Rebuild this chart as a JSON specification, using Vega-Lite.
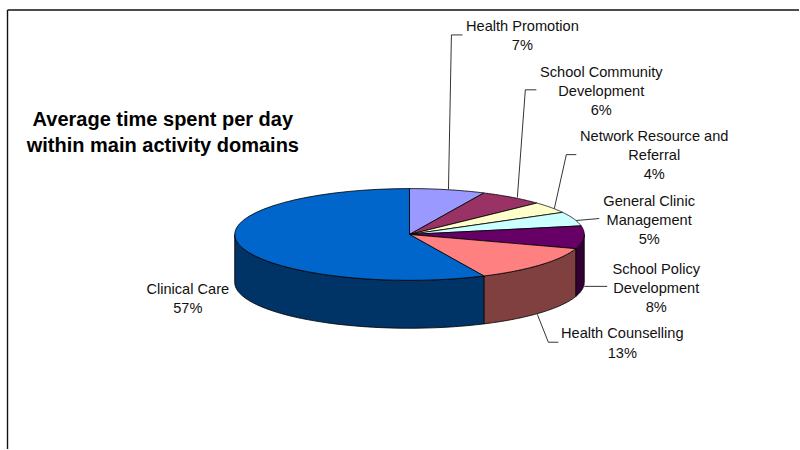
{
  "$schema": "https://vega.github.io/schema/vega-lite/v6.json",
  "autosize": {"type": "fit", "contains": "padding"},
  "width": 800,
  "height": 450,
  "padding": 0,
  "background": "white",
  "config": {"view": {"stroke": null}},
  "datasets": {
    "slices": [
      {"rank": 1, "slice": "Health Promotion", "share": 7, "label": "Health Promotion\n7%", "lx": 65.38, "ly": 6},
      {"rank": 2, "slice": "School Community Development", "share": 6, "label": "School Community\nDevelopment\n6%", "lx": 75.25, "ly": 16.22},
      {"rank": 3, "slice": "Network Resource and Referral", "share": 4, "label": "Network Resource and\nReferral\n4%", "lx": 81.88, "ly": 30.44},
      {"rank": 4, "slice": "General Clinic Management", "share": 5, "label": "General Clinic\nManagement\n5%", "lx": 81.25, "ly": 44.89},
      {"rank": 5, "slice": "School Policy Development", "share": 8, "label": "School Policy\nDevelopment\n8%", "lx": 82.13, "ly": 60.1},
      {"rank": 6, "slice": "Health Counselling", "share": 13, "label": "Health Counselling\n13%", "lx": 77.88, "ly": 74.44},
      {"rank": 7, "slice": "Clinical Care", "share": 57, "label": "Clinical Care\n57%", "lx": 23.5, "ly": 64.5}
    ],
    "leaders": [
      {"slice": "Health Promotion", "step": 1, "x": 56.13, "y": 42.11},
      {"slice": "Health Promotion", "step": 2, "x": 56.5, "y": 7.78},
      {"slice": "Health Promotion", "step": 3, "x": 57.88, "y": 7.78},
      {"slice": "School Community Development", "step": 1, "x": 64.75, "y": 44},
      {"slice": "School Community Development", "step": 2, "x": 65.75, "y": 20},
      {"slice": "School Community Development", "step": 3, "x": 67.13, "y": 20},
      {"slice": "Network Resource and Referral", "step": 1, "x": 69.38, "y": 46.44},
      {"slice": "Network Resource and Referral", "step": 2, "x": 70.88, "y": 34.44},
      {"slice": "Network Resource and Referral", "step": 3, "x": 72.13, "y": 34.44},
      {"slice": "General Clinic Management", "step": 1, "x": 72.13, "y": 49.11},
      {"slice": "General Clinic Management", "step": 2, "x": 75, "y": 48.67},
      {"slice": "School Policy Development", "step": 1, "x": 73.13, "y": 63.78},
      {"slice": "School Policy Development", "step": 2, "x": 76, "y": 63.78},
      {"slice": "Health Counselling", "step": 1, "x": 67.25, "y": 70},
      {"slice": "Health Counselling", "step": 2, "x": 68.63, "y": 76.22},
      {"slice": "Health Counselling", "step": 3, "x": 69.88, "y": 76.22}
    ]
  },
  "layer": [
    {
      "data": {"values": [
        {"x": 0.94, "x2": 0.94, "y": 2.22, "y2": 100},
        {"x": 0.94, "x2": 100, "y": 2.22, "y2": 2.22}
      ]},
      "mark": {"type": "rule", "color": "#111111", "strokeWidth": 1.4},
      "encoding": {
        "x": {"field": "x", "type": "quantitative", "axis": null, "scale": {"domain": [0, 100], "nice": false, "zero": false}},
        "x2": {"field": "x2"},
        "y": {"field": "y", "type": "quantitative", "axis": null, "scale": {"domain": [0, 100], "nice": false, "zero": false, "reverse": true}},
        "y2": {"field": "y2"}
      }
    },
    {
      "data": {"name": "slices"},
      "transform": [
        {"stack": "share", "sort": [{"field": "rank"}], "as": ["s0", "s1"]},
        {"filter": "datum.s1 > 25 && datum.s0 < 75"},
        {"calculate": "max(datum.s0, 25)", "as": "a0"},
        {"calculate": "min(datum.s1, 75)", "as": "a1"},
        {"calculate": "[0,0.025,0.05,0.075,0.1,0.125,0.15,0.175,0.2,0.225,0.25,0.275,0.3,0.325,0.35,0.375,0.4,0.425,0.45,0.475,0.5,0.525,0.55,0.575,0.6,0.625,0.65,0.675,0.7,0.725,0.75,0.775,0.8,0.825,0.85,0.875,0.9,0.925,0.95,0.975,1]", "as": "t"},
        {"flatten": ["t"]},
        {"calculate": "2 * PI * (datum.a0 + datum.t * (datum.a1 - datum.a0)) / 100", "as": "angle"},
        {"calculate": "51.25 + 21.875 * sin(datum.angle)", "as": "px"},
        {"calculate": "52.22 - 10.22 * cos(datum.angle)", "as": "py"},
        {"calculate": "datum.py + 10.67", "as": "pyb"}
      ],
      "mark": {"type": "area", "stroke": "black", "strokeWidth": 0.8, "opacity": 1},
      "encoding": {
        "x": {"field": "px", "type": "quantitative", "axis": null, "scale": {"domain": [0, 100], "nice": false, "zero": false}},
        "y": {"field": "py", "type": "quantitative", "axis": null, "scale": {"domain": [0, 100], "nice": false, "zero": false, "reverse": true}},
        "y2": {"field": "pyb"},
        "color": {
          "field": "slice",
          "type": "nominal",
          "legend": null,
          "scale": {
            "domain": ["School Policy Development", "Health Counselling", "Clinical Care"],
            "range": ["#330033", "#804040", "#003366"]
          }
        }
      }
    },
    {
      "data": {"name": "slices"},
      "transform": [
        {"stack": "share", "sort": [{"field": "rank"}], "as": ["s0", "s1"]},
        {"calculate": "[-1,0,0.025,0.05,0.075,0.1,0.125,0.15,0.175,0.2,0.225,0.25,0.275,0.3,0.325,0.35,0.375,0.4,0.425,0.45,0.475,0.5,0.525,0.55,0.575,0.6,0.625,0.65,0.675,0.7,0.725,0.75,0.775,0.8,0.825,0.85,0.875,0.9,0.925,0.95,0.975,1]", "as": "t"},
        {"flatten": ["t"]},
        {"calculate": "2 * PI * (datum.s0 + max(datum.t, 0) * (datum.s1 - datum.s0)) / 100", "as": "angle"},
        {"calculate": "datum.t < 0 ? 0 : 1", "as": "r"},
        {"calculate": "51.25 + 21.875 * datum.r * sin(datum.angle)", "as": "px"},
        {"calculate": "52.22 - 10.22 * datum.r * cos(datum.angle)", "as": "py"}
      ],
      "mark": {"type": "line", "interpolate": "linear-closed", "stroke": "black", "strokeWidth": 0.8},
      "encoding": {
        "x": {"field": "px", "type": "quantitative", "axis": null, "scale": {"domain": [0, 100], "nice": false, "zero": false}},
        "y": {"field": "py", "type": "quantitative", "axis": null, "scale": {"domain": [0, 100], "nice": false, "zero": false, "reverse": true}},
        "order": {"field": "t", "type": "quantitative"},
        "fill": {
          "field": "slice",
          "type": "nominal",
          "legend": null,
          "scale": {
            "domain": ["Health Promotion", "School Community Development", "Network Resource and Referral", "General Clinic Management", "School Policy Development", "Health Counselling", "Clinical Care"],
            "range": ["#9999FF", "#993366", "#FFFFCC", "#CCFFFF", "#660066", "#FF8080", "#0066CC"]
          }
        }
      }
    },
    {
      "data": {"name": "leaders"},
      "mark": {"type": "line", "color": "black", "strokeWidth": 0.8},
      "encoding": {
        "x": {"field": "x", "type": "quantitative", "axis": null, "scale": {"domain": [0, 100], "nice": false, "zero": false}},
        "y": {"field": "y", "type": "quantitative", "axis": null, "scale": {"domain": [0, 100], "nice": false, "zero": false, "reverse": true}},
        "detail": {"field": "slice"},
        "order": {"field": "step", "type": "quantitative"}
      }
    },
    {
      "data": {"name": "slices"},
      "mark": {"type": "text", "font": "Liberation Sans", "fontSize": 14.6, "lineHeight": 19.3, "lineBreak": "\n", "align": "center", "baseline": "middle", "color": "#111111"},
      "encoding": {
        "x": {"field": "lx", "type": "quantitative", "axis": null, "scale": {"domain": [0, 100], "nice": false, "zero": false}},
        "y": {"field": "ly", "type": "quantitative", "axis": null, "scale": {"domain": [0, 100], "nice": false, "zero": false, "reverse": true}},
        "text": {"field": "label"}
      }
    },
    {
      "data": {"values": [{"title": "Average time spent per day\nwithin main activity domains", "x": 20.38, "y": 26.67}]},
      "mark": {"type": "text", "font": "Liberation Sans", "fontSize": 20, "fontWeight": "bold", "lineHeight": 26.5, "lineBreak": "\n", "align": "center", "baseline": "middle", "color": "black"},
      "encoding": {
        "x": {"field": "x", "type": "quantitative", "axis": null, "scale": {"domain": [0, 100], "nice": false, "zero": false}},
        "y": {"field": "y", "type": "quantitative", "axis": null, "scale": {"domain": [0, 100], "nice": false, "zero": false, "reverse": true}},
        "text": {"field": "title"}
      }
    }
  ],
  "resolve": {"scale": {"color": "independent", "fill": "independent"}}
}
